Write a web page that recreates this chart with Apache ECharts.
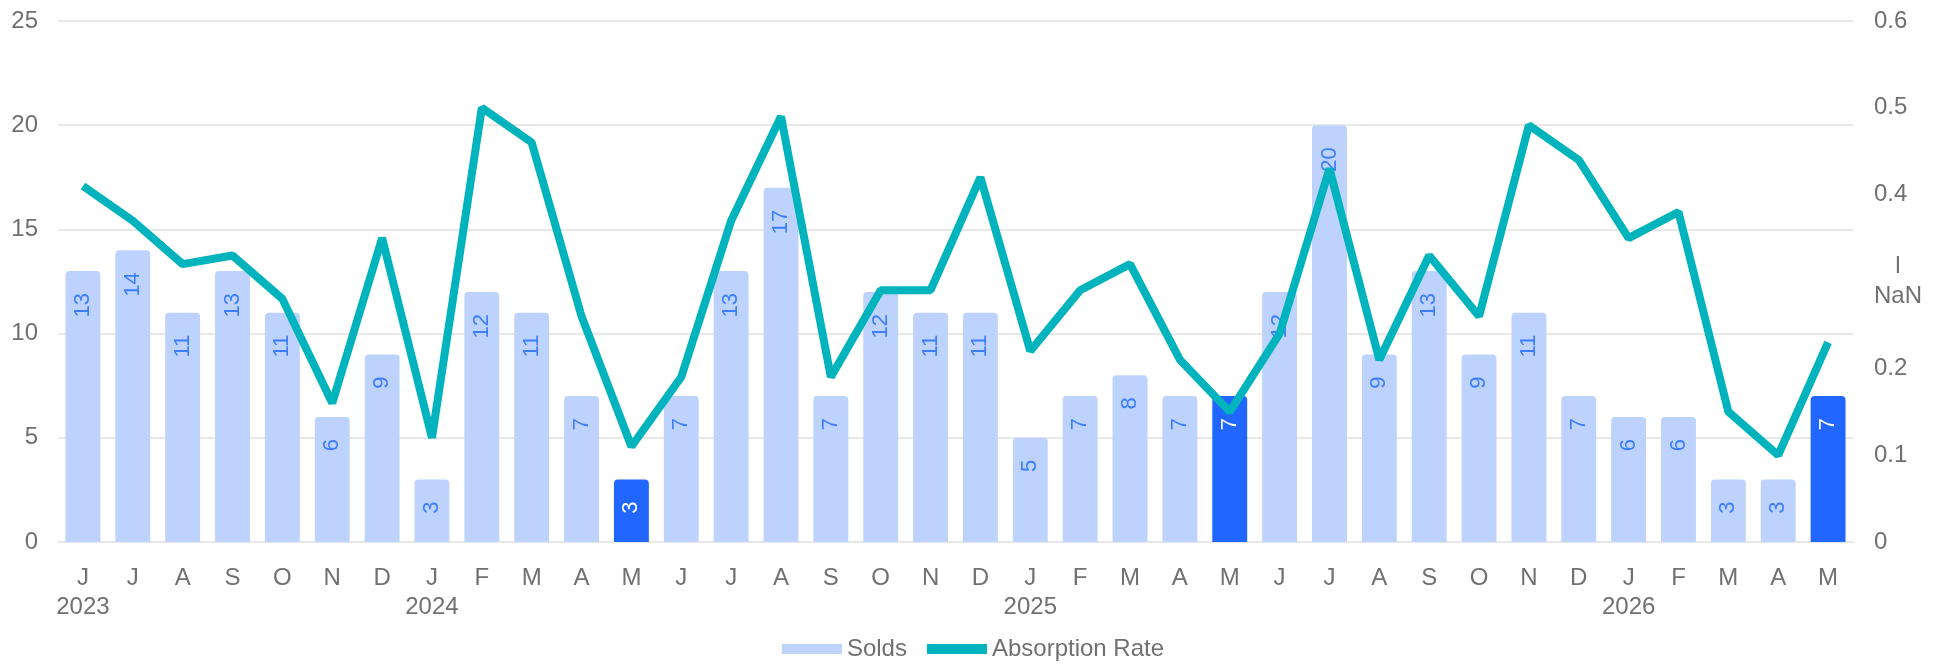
<!DOCTYPE html>
<html>
<head>
<meta charset="utf-8">
<script src="https://cdn.jsdelivr.net/npm/echarts@6/dist/echarts.min.js"></script>
<style>
  html, body { margin: 0; padding: 0; background: #fff; }
  #chart { width: 1946px; height: 664px; }
</style>
</head>
<body>
<div id="chart"></div>
<script>
// Categories: June 2023 .. May 2026
const months = ['J','J','A','S','O','N','D','J','F','M','A','M','J','J','A','S','O','N','D','J','F','M','A','M','J','J','A','S','O','N','D','J','F','M','A','M'];
const years  = ['2023','','','','','','','2024','','','','','','','','','','','','2025','','','','','','','','','','','','2026','','','',''];
const solds = [13,14,11,13,11,6,9,3,12,11,7,3,7,13,17,7,12,11,11,5,7,8,7,7,12,20,9,13,9,11,7,6,6,3,3,7];
const highlighted = [false,false,false,false,false,false,false,false,false,false,false,true,false,false,false,false,false,false,false,false,false,false,false,true,false,false,false,false,false,false,false,false,false,false,false,true];
const absorptionRate = [0.41,0.37,0.32,0.33,0.28,0.16,0.35,0.12,0.50,0.46,0.26,0.11,0.19,0.37,0.49,0.19,0.29,0.29,0.42,0.22,0.29,0.32,0.21,0.15,0.24,0.43,0.21,0.33,0.26,0.48,0.44,0.35,0.38,0.15,0.10,0.23];
const leftTicks = [0,5,10,15,20,25];
const rightTicks = ['0','0.1','0.2','l\nNaN','0.4','0.5','0.6'];

const categories = months.map((m, i) => years[i] ? m + '\n' + years[i] : m);

const LIGHT = '#BDD3FE';
const DARK = '#2066FF';
const LABEL_BLUE = '#3D7DFF';
const LINE = '#00B3BD';
const TEXT = '#707070';
const GRIDC = '#E8E8E8';
const FONT = 'Liberation Sans, Arial, Helvetica, sans-serif';

const barData = solds.map((v, i) => ({
  value: v,
  itemStyle: { color: highlighted[i] ? DARK : LIGHT },
  label: { color: highlighted[i] ? '#ffffff' : LABEL_BLUE }
}));

const chart = echarts.init(document.getElementById('chart'));
chart.setOption({
  animation: false,
  textStyle: { fontFamily: FONT },
  grid: { left: 58, right: 93, top: 21, bottom: 122 },
  legend: {
    top: 632,
    left: 'center',
    itemWidth: 60,
    itemHeight: 10,
    itemGap: 20,
    textStyle: { color: TEXT, fontSize: 24, fontFamily: FONT },
    data: [
      { name: 'Solds', icon: 'rect', itemStyle: { color: LIGHT } },
      { name: 'Absorption Rate', icon: 'rect', itemStyle: { color: LINE } }
    ]
  },
  xAxis: {
    type: 'category',
    data: categories,
    axisTick: { show: false },
    axisLine: { lineStyle: { color: GRIDC, width: 2 } },
    axisLabel: { color: TEXT, fontSize: 24, margin: 22, lineHeight: 29, fontFamily: FONT, interval: 0 }
  },
  yAxis: [
    {
      type: 'value',
      min: 0, max: 25, interval: 5,
      axisLabel: { color: TEXT, fontSize: 24, margin: 20, fontFamily: FONT,
        formatter: v => leftTicks.indexOf(v) >= 0 ? String(v) : '' },
      splitLine: { lineStyle: { color: GRIDC, width: 2 } }
    },
    {
      type: 'value',
      min: 0, max: 0.6, interval: 0.1,
      splitLine: { show: false },
      axisLabel: {
        color: TEXT, fontSize: 24, margin: 21, fontFamily: FONT,
        formatter: function (v) {
          const idx = Math.round(v * 10);
          const t = rightTicks[idx];
          if (t && t.indexOf('\n') >= 0) {
            return t.split('\n').map(s => '{c|' + s + '}').join('\n');
          }
          return t;
        },
        rich: { c: { width: 48, align: 'center', fontSize: 24, color: TEXT, lineHeight: 30, fontFamily: FONT } }
      }
    }
  ],
  series: [
    {
      name: 'Solds',
      type: 'bar',
      yAxisIndex: 0,
      barWidth: '70%',
      data: barData,
      itemStyle: { borderRadius: [4, 4, 0, 0], color: LIGHT },
      label: {
        show: true,
        position: 'insideTop',
        rotate: 90,
        align: 'right',
        verticalAlign: 'middle',
        distance: 22,
        fontSize: 22,
        fontFamily: FONT
      },
      z: 2
    },
    {
      name: 'Absorption Rate',
      type: 'line',
      yAxisIndex: 1,
      data: absorptionRate,
      showSymbol: false,
      symbol: 'none',
      lineStyle: { color: LINE, width: 8 },
      itemStyle: { color: LINE },
      z: 3
    }
  ]
});
</script>
</body>
</html>
